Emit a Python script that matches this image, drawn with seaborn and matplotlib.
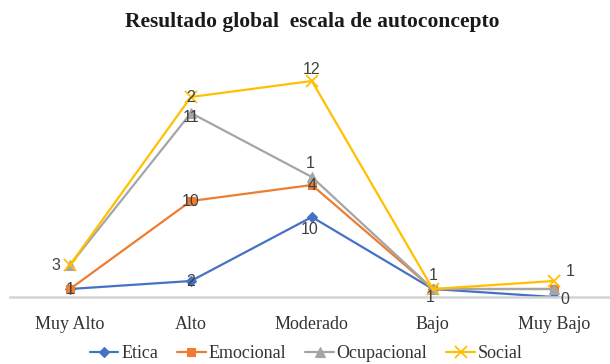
import matplotlib
matplotlib.use("Agg")
import matplotlib.pyplot as plt
import seaborn as sns
import pandas as pd

# Categories and per-scale counts (stacked line chart)
categories = ["Muy Alto", "Alto", "Moderado", "Bajo", "Muy Bajo"]
etica = [1, 2, 10, 1, 0]
emocional = [0, 10, 4, 0, 1]
ocupacional = [3, 11, 1, 0, 0]
social = [0, 2, 12, 0, 1]

series_names = ["Etica", "Emocional", "Ocupacional", "Social"]
series_values = [etica, emocional, ocupacional, social]
colors = ["#4472C4", "#ED7D31", "#A5A5A5", "#FFC000"]
markers = ["D", "s", "^", "x"]
marker_sizes = [5, 6, 7, 8]

# Long-form table with stacked (cumulative) heights
rows = []
running = [0] * len(categories)
for name, vals in zip(series_names, series_values):
    for i, (cat, v) in enumerate(zip(categories, vals)):
        running[i] += v
        rows.append({"categoria": cat, "pos": i, "serie": name,
                     "valor": v, "acumulado": running[i]})
df = pd.DataFrame(rows)

# Data labels: (serie, categoria, pixel offset x, pixel offset y)
label_spots = [
    ("Etica", "Muy Alto", 0, 0),
    ("Etica", "Alto", 0, 0),
    ("Etica", "Moderado", -2, -13),
    ("Etica", "Bajo", -3, -8),
    ("Etica", "Bajo", 0, 14),
    ("Etica", "Muy Bajo", 11, -3),
    ("Emocional", "Alto", 0, 0),
    ("Emocional", "Moderado", 0, -1),
    ("Ocupacional", "Muy Alto", -14, 0),
    ("Ocupacional", "Alto", 0, -4),
    ("Ocupacional", "Moderado", -2, 14),
    ("Social", "Alto", 0, 0),
    ("Social", "Moderado", 0, 11),
    ("Social", "Muy Bajo", 16, 10),
]

sns.set_theme(style="white")
plt.rcParams["font.family"] = ["Liberation Serif", "DejaVu Serif"]

fig = plt.figure(figsize=(6.10, 3.64), dpi=100)
ax = fig.add_axes([9.5 / 610, 67 / 364, 1 - 9.5 / 610, 240 / 364])

for name, color, mk, ms in zip(series_names, colors, markers, marker_sizes):
    sub = df[df["serie"] == name]
    sns.lineplot(data=sub, x="pos", y="acumulado", ax=ax, color=color,
                 linewidth=1.6, marker=mk, markersize=ms,
                 markeredgecolor=color, markeredgewidth=1.3 if mk == "x" else 0.8,
                 label=name, sort=False)

for name, cat, dx, dy in label_spots:
    r = df[(df["serie"] == name) & (df["categoria"] == cat)].iloc[0]
    ax.annotate(f"{int(r['valor'])}", (r["pos"], r["acumulado"]),
                xytext=(dx, dy), textcoords="offset pixels",
                ha="center", va="center", fontsize=11.5,
                family=["Liberation Sans", "DejaVu Sans"], color="#404040")

ax.set_xlim(-0.5, 4.465)
ax.set_ylim(0, 30)
ax.set_xticks(range(len(categories)))
ax.set_xticklabels(categories, fontsize=13, color="#333333")
ax.set_yticks([])
ax.set_xlabel("")
ax.set_ylabel("")
ax.tick_params(axis="x", length=0, pad=14)
for side in ["top", "right", "left"]:
    ax.spines[side].set_visible(False)
ax.spines["bottom"].set_color("#d4d4d4")
ax.spines["bottom"].set_linewidth(1.8)

ax.legend(loc="center", bbox_to_anchor=(0.502, 10 / 364), bbox_transform=fig.transFigure,
          ncol=4, frameon=False, fontsize=13, handlelength=1.6,
          columnspacing=1.05, handletextpad=0.15, labelcolor="#333333")

fig.text(0.512, 0.94, "Resultado global  escala de autoconcepto",
         ha="center", va="center", fontsize=15.5, fontweight="bold", color="#1a1a1a")

fig.savefig("out.png", dpi=100)
